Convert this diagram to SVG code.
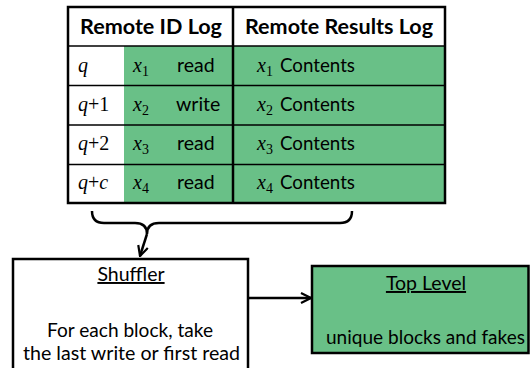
<svg xmlns="http://www.w3.org/2000/svg" width="530" height="368" viewBox="0 0 530 368">
<defs>
<style>
.t{font-family:Lato,"Open Sans","Liberation Sans",sans-serif;font-size:19.5px;fill:#000}
.h{font-family:Lato,"Open Sans","Liberation Sans",sans-serif;font-size:20px;font-weight:bold;fill:#000}
.m{font-family:"Liberation Serif","Times New Roman",serif;font-size:20px;fill:#000}
.i{font-style:italic}
.sub{font-size:14px}
.thick{stroke:#000;stroke-width:2.5;fill:none}
.thin{stroke:#000;stroke-width:1.5;fill:none}
.green{fill:#69c087}
.conn{stroke:#000;stroke-width:2.5;fill:none}
</style>
<marker id="arr" viewBox="0 0 12 12" refX="11" refY="6" markerWidth="12" markerHeight="12" markerUnits="userSpaceOnUse" orient="auto">
<path d="M1,1 L11,6 L1,11" fill="none" stroke="#000" stroke-width="2.2"/>
</marker>
</defs>

<g id="table">
<rect class="green" x="124" y="46" width="321" height="157"/>
<line class="thin" x1="68" y1="46" x2="445" y2="46"/>
<line class="thin" x1="68" y1="85.5" x2="445" y2="85.5"/>
<line class="thin" x1="68" y1="125" x2="445" y2="125"/>
<line class="thin" x1="68" y1="164.5" x2="445" y2="164.5"/>
<line class="thick" x1="233" y1="7" x2="233" y2="203"/>
<rect class="thick" x="68" y="7" width="377" height="196"/>
<text class="h" x="80" y="34" textLength="142" lengthAdjust="spacingAndGlyphs">Remote ID Log</text>
<text class="h" x="245" y="34" textLength="188" lengthAdjust="spacingAndGlyphs">Remote Results Log</text>

<text class="m i" x="78" y="72">q</text>
<text class="m" x="133" y="72"><tspan class="i">x</tspan><tspan class="sub" dy="4">1</tspan></text>
<text class="t" x="177" y="72">read</text>
<text class="m" x="257" y="72"><tspan class="i">x</tspan><tspan class="sub" dy="4">1</tspan></text>
<text class="t" x="280" y="72" textLength="75" lengthAdjust="spacingAndGlyphs">Contents</text>

<text class="m" x="78" y="111"><tspan class="i">q</tspan>+1</text>
<text class="m" x="133" y="111"><tspan class="i">x</tspan><tspan class="sub" dy="4">2</tspan></text>
<text class="t" x="176" y="111">write</text>
<text class="m" x="257" y="111"><tspan class="i">x</tspan><tspan class="sub" dy="4">2</tspan></text>
<text class="t" x="280" y="111" textLength="75" lengthAdjust="spacingAndGlyphs">Contents</text>

<text class="m" x="78" y="150"><tspan class="i">q</tspan>+2</text>
<text class="m" x="133" y="150"><tspan class="i">x</tspan><tspan class="sub" dy="4">3</tspan></text>
<text class="t" x="177" y="150">read</text>
<text class="m" x="257" y="150"><tspan class="i">x</tspan><tspan class="sub" dy="4">3</tspan></text>
<text class="t" x="280" y="150" textLength="75" lengthAdjust="spacingAndGlyphs">Contents</text>

<text class="m" x="78" y="189"><tspan class="i">q</tspan>+<tspan class="i">c</tspan></text>
<text class="m" x="133" y="189"><tspan class="i">x</tspan><tspan class="sub" dy="4">4</tspan></text>
<text class="t" x="177" y="189">read</text>
<text class="m" x="257" y="189"><tspan class="i">x</tspan><tspan class="sub" dy="4">4</tspan></text>
<text class="t" x="280" y="189" textLength="75" lengthAdjust="spacingAndGlyphs">Contents</text>
</g>

<g id="shuffler">
<rect x="13" y="259" width="235" height="112" fill="#fff" stroke="#000" stroke-width="2.5"/>
<text class="t" x="131" y="281" text-anchor="middle" text-decoration="underline">Shuffler</text>
<text class="t" x="47" y="337" textLength="166" lengthAdjust="spacingAndGlyphs">For each block, take</text>
<text class="t" x="23" y="360" textLength="217" lengthAdjust="spacingAndGlyphs">the last write or first read</text>
</g>

<g id="toplevel">
<rect x="312" y="266" width="216.5" height="87" fill="#69c087" stroke="#000" stroke-width="2.5"/>
<text class="t" x="426" y="290" text-anchor="middle" text-decoration="underline">Top Level</text>
<text class="t" x="326" y="344" textLength="199" lengthAdjust="spacingAndGlyphs">unique blocks and fakes</text>
</g>

<g id="connectors">
<path class="conn" d="M92,211 Q92,223 104,223 L135,223 Q147,223 147,234 Q147,223 159,223 L340,223 Q352,223 352,211"/>
<path class="conn" d="M147,234 L140,256" marker-end="url(#arr)"/>
<path class="conn" d="M249,298 L311,298" marker-end="url(#arr)"/>
</g>
</svg>
